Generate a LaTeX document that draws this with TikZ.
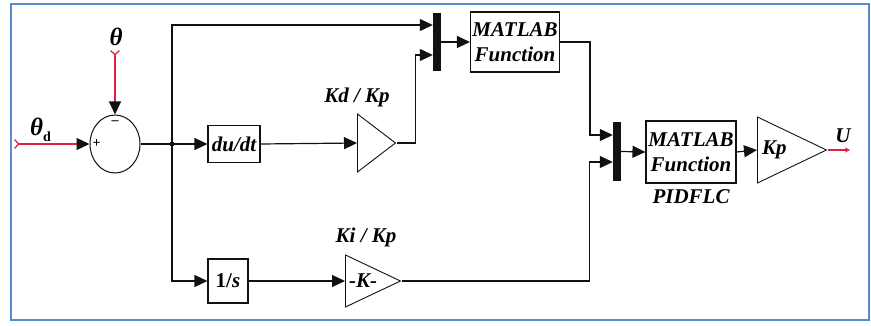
\documentclass[tikz,border=0pt]{standalone}
\usepackage{fontspec}
\setmainfont{Liberation Serif}
\usepackage{tikz}
\usetikzlibrary{shapes.geometric, arrows.meta, positioning, calc}
\definecolor{slFrame}{HTML}{5A8AD2}
\definecolor{slRed}{HTML}{E0203C}
\definecolor{slBlack}{HTML}{111111}

\begin{document}
\begin{tikzpicture}[x=1pt, y=-1pt,
  %% --- Node styles ---
  block/.style={
    rectangle, draw=slBlack, line width=1.1pt,
    fill=white, inner sep=0pt, align=center,
    font=\fontsize{21}{25}\selectfont\bfseries\itshape
  },
  gain/.style={
    isosceles triangle, isosceles triangle stretches,
    draw=slBlack, line width=0.9pt, inner sep=0pt
  },
  sumblk/.style={
    ellipse, draw=slBlack, line width=1pt,
    minimum width=50pt, minimum height=58pt
  },
  muxbar/.style={
    rectangle, fill=slBlack, inner sep=0pt,
    minimum width=8pt, minimum height=58pt
  },
  branchdot/.style={rectangle, fill=slBlack, minimum size=3.5pt, inner sep=0pt},
  lbl/.style={font=\fontsize{21}{25}\selectfont\bfseries\itshape, inner sep=0pt},
  sgn/.style={font=\fontsize{14}{14}\selectfont\bfseries, inner sep=0pt},
  %% --- Arrow styles ---
  sig/.style={-{Triangle[length=13pt, width=12pt]}, line width=1.2pt, draw=slBlack},
  insig/.style={{Straight Barb[reversed, length=4pt, width=9pt]}-{Triangle[length=13pt, width=12pt, color=slBlack]},
    line width=1.2pt, draw=slRed},
  outsig/.style={-{Stealth[length=5pt, width=5pt]}, line width=1.2pt, draw=slRed},
  frame/.style={draw=slFrame, line width=2pt}
]
\useasboundingbox (0,0) rectangle (871,326);
\draw[frame] (11,4) rectangle (869,320);

%% =========================================================
%% NODES
%% =========================================================
\node (sum)    [sumblk] at (115,144) {};
\node (splus)  [sgn] at ($(sum.west)+(7,0)$) {+};
\node (sminus) [sgn] at ($(sum.north)+(0,8)$) {--};
\node (br)     [branchdot] at (172,144) {};

\node (deriv)  [block, minimum width=52pt, minimum height=37pt] at (234,144) {du/dt};
\node (integ)  [block, minimum width=40pt, minimum height=44pt] at (228,281) {{\upshape 1/}s};

\node (kd)     [gain, minimum width=58pt, minimum height=38pt, anchor=west] at (357,143) {};
\node (ki)     [gain, minimum width=52pt, minimum height=55pt, anchor=west] at (345,281) {};
\node (kitxt)  [lbl, right=4pt of ki.west] {-K-};

\node (mux1)   [muxbar] at (437,42) {};
\node (fun1)   [block, minimum width=89pt, minimum height=60pt] at (515,42) {MATLAB\\Function};

\node (mux2)   [muxbar, minimum height=59pt] at (617,151.5) {};
\node (fun2)   [block, minimum width=90pt, minimum height=62pt] at (691,152) {MATLAB\\Function};

\node (kp)     [gain, minimum width=66pt, minimum height=69pt, anchor=west] at (757,150) {};
\node (kptxt)  [lbl, right=5pt of kp.west] {Kp};

%% labels
\node (lthetad) [lbl, anchor=west] at (30,130) {{\fontsize{25}{25}\selectfont θ}\raisebox{-6pt}{\fontsize{14}{14}\selectfont\upshape d}};
\node (ltheta)  [lbl, font=\fontsize{25}{25}\selectfont\bfseries\itshape] at (116,37) {θ};
\node (lkd)     [lbl, anchor=south] at ($(kd.west)+(0,-36)$) {Kd / Kp};
\node (lki)     [lbl, anchor=south] at ($(ki.west)+(21,-34)$) {Ki / Kp};
\node (lpid)    [lbl, below=6pt of fun2] {PIDFLC};
\node (lu)      [lbl] at (843,136) {U};

%% ports
\coordinate (thdin) at (14,144);
\coordinate (thin)  at (115,50);
\coordinate (uout)  at (850,150);
\coordinate (m1a) at ($(mux1.west)+(0,-17)$);
\coordinate (m1b) at ($(mux1.west)+(0,13)$);
\coordinate (m2a) at ($(mux2.west)+(0,-16.5)$);
\coordinate (m2b) at ($(mux2.west)+(0,10.5)$);

%% =========================================================
%% SIGNALS
%% =========================================================
\draw[insig] (thdin) -- (sum.west);
\draw[insig] (thin)  -- (sum.north);
\draw[sig] (sum.east) -- (deriv.west);
\draw[sig] (br.center) |- (m1a);
\draw[sig] (br.center) |- (integ.west);
\draw[sig] (deriv.east) -- (kd.west);
\draw[sig] (kd.apex) -- ++(19,0) |- (m1b);
\draw[sig] (mux1.east) -- (fun1.west);
\draw[sig] (fun1.east) -- ++(30,0) |- (m2a);
\draw[sig] (integ.east) -- (ki.west);
\draw[sig] (ki.apex) -- ++(188,0) |- (m2b);
\draw[sig] (mux2.east) -- (fun2.west);
\draw[sig] (fun2.east) -- (kp.west);
\draw[outsig] (kp.apex) -- (uout);

\end{tikzpicture}
\end{document}
